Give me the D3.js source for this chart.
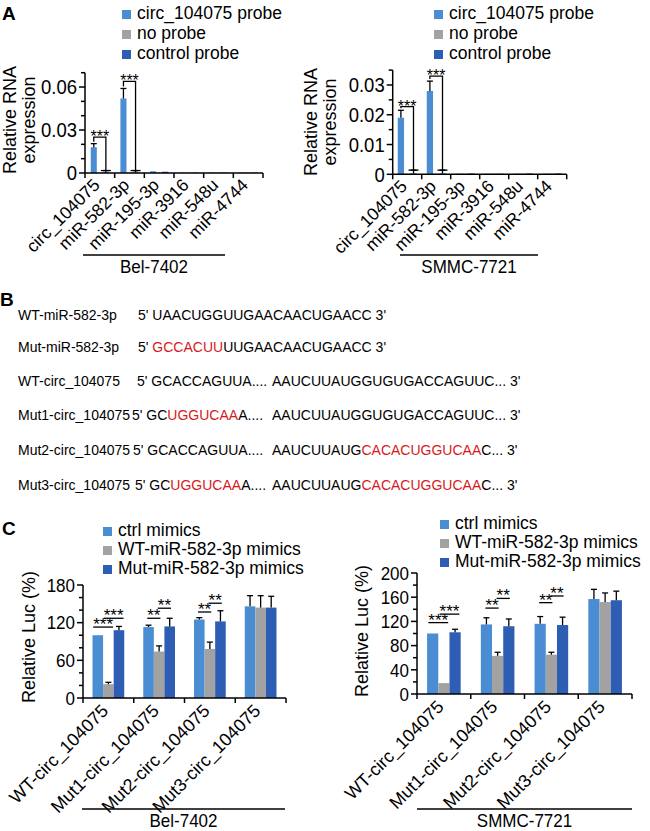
<!DOCTYPE html>
<html>
<head>
<meta charset="utf-8">
<script src="https://cdn.jsdelivr.net/npm/d3@7"></script>
<style>
  body { margin: 0; background: #fff; }
  text { font-family: "Liberation Sans", Arial, sans-serif; }
</style>
</head>
<body>
<svg id="fig" width="650" height="831"></svg>
<script>
// ---- panel A data ----
var probeTargets = ["circ_104075", "miR-582-3p", "miR-195-3p", "miR-3916", "miR-548u", "miR-4744"];
var probeSeries = ["circ_104075 probe", "no probe", "control probe"];

var belProbe = [0.018, 0.052, 0.0012, 0.0003, 0.0003, 0.0003];
var belProbeErr = [0.0025, 0.007, 0.0003, 0.0001, 0.0001, 0.0001];
var belNoProbe = [0.0003, 0.0003, 0.0003, 0.0002, 0.0002, 0.0002];
var belNoProbeErr = [0.0001, 0.0001, 0.0001, 0.0001, 0.0001, 0.0001];
var belControl = [0.0004, 0.0004, 0.0009, 0.0003, 0.0003, 0.0003];
var belControlErr = [0.0013, 0.0013, 0.0002, 0.0001, 0.0001, 0.0001];

var smmcProbe = [0.019, 0.028, 0.0002, 0.0002, 0.0002, 0.0002];
var smmcProbeErr = [0.0025, 0.0033, 0.0001, 0.0001, 0.0001, 0.0001];
var smmcNoProbe = [0.0002, 0.0002, 0.0002, 0.0002, 0.0002, 0.0002];
var smmcNoProbeErr = [0.0001, 0.0001, 0.0001, 0.0001, 0.0001, 0.0001];
var smmcControl = [0.0003, 0.0003, 0.0003, 0.0002, 0.0003, 0.0003];
var smmcControlErr = [0.0011, 0.0011, 0.0001, 0.0001, 0.0001, 0.0001];

// bracket tops (data units) for probe vs control probe
var belBrackets = [{group: 0, top: 0.025, label: "***"}, {group: 1, top: 0.064, label: "***"}];
var smmcBrackets = [{group: 0, top: 0.0227, label: "***"}, {group: 1, top: 0.033, label: "***"}];

// ---- panel B data ----
var seqNames = ["WT-miR-582-3p", "Mut-miR-582-3p", "WT-circ_104075", "Mut1-circ_104075", "Mut2-circ_104075", "Mut3-circ_104075"];
// [text, isMutated]
var seqHeads = [
  [["5' UAACUGGUUGAACAACUGAACC 3'", 0]],
  [["5' ", 0], ["GCCACUU", 1], ["UUGAACAACUGAACC 3'", 0]],
  [["5' GCACCAGUUA....", 0]],
  [["5' GC", 0], ["UGGUCAA", 1], ["A....", 0]],
  [["5' GCACCAGUUA....", 0]],
  [["5' GC", 0], ["UGGUCAA", 1], ["A....", 0]]
];
var seqTails = [
  [],
  [],
  [["AAUCUUAUGGUGUGACCAGUUC... 3'", 0]],
  [["AAUCUUAUGGUGUGACCAGUUC... 3'", 0]],
  [["AAUCUUAUG", 0], ["CACACUGGUCAA", 1], ["C... 3'", 0]],
  [["AAUCUUAUG", 0], ["CACACUGGUCAA", 1], ["C... 3'", 0]]
];

// ---- panel C data ----
var lucTargets = ["WT-circ_104075", "Mut1-circ_104075", "Mut2-circ_104075", "Mut3-circ_104075"];
var lucSeries = ["ctrl mimics", "WT-miR-582-3p mimics", "Mut-miR-582-3p mimics"];

var belCtrl = [100, 113, 125, 146];
var belCtrlErr = [1.5, 3, 3, 17];
var belWT = [22, 74, 78, 144];
var belWTErr = [3, 9, 11, 19];
var belMut = [108, 114, 122, 144];
var belMutErr = [6, 13, 17, 18];

var smmcCtrl = [100, 115, 116, 157];
var smmcCtrlErr = [1, 11, 12, 16];
var smmcWT = [18, 63, 65, 152];
var smmcWTErr = [2, 6, 4, 15];
var smmcMut = [102, 112, 114, 155];
var smmcMutErr = [5, 12, 13, 15];

// significance underlines: pair 0 = ctrl vs WT, pair 1 = WT vs Mut (y in data units)
var belSig = [
  {group: 0, pair: 0, y: 113, label: "***"}, {group: 0, pair: 1, y: 127, label: "***"},
  {group: 1, pair: 0, y: 127, label: "**"}, {group: 1, pair: 1, y: 143, label: "**"},
  {group: 2, pair: 0, y: 137, label: "**"}, {group: 2, pair: 1, y: 151, label: "**"}
];
var smmcSig = [
  {group: 0, pair: 0, y: 118, label: "***"}, {group: 0, pair: 1, y: 132, label: "***"},
  {group: 1, pair: 0, y: 142, label: "**"}, {group: 1, pair: 1, y: 158, label: "**"},
  {group: 2, pair: 0, y: 151, label: "**"}, {group: 2, pair: 1, y: 162, label: "**"}
];

var colors = ["#4b8dd2", "#a2a2a2", "#2e5db4"];

var svg = d3.select("#fig");

function legend(g, names, x, y, step, size) {
  var row = g.append("g").selectAll("g").data(names).enter().append("g")
    .attr("transform", function(d, i) { return "translate(" + x + "," + (y + i * step) + ")"; });
  row.append("rect").attr("x", 0).attr("y", -9).attr("width", 9).attr("height", 9)
    .attr("fill", function(d, i) { return colors[i]; });
  row.append("text").attr("x", 15).attr("y", 0).attr("font-size", size).text(function(d) { return d; });
}

function barChart(opt) {
  var g = svg.append("g");
  var x = d3.scaleBand().domain(opt.categories).range([opt.left, opt.right]);
  var xs = d3.scaleBand().domain(d3.range(opt.series.length))
    .range([0, x.bandwidth()]).paddingOuter(opt.outer);
  var y = d3.scaleLinear().domain([0, opt.max]).range([opt.bottom, opt.top]);
  var bw = xs.bandwidth();

  // bars + error bars
  opt.series.forEach(function(vals, s) {
    var pts = vals.map(function(v, i) {
      return {cx: x(opt.categories[i]) + xs(s) + bw / 2, v: v, e: opt.errors[s][i]};
    });
    g.append("g").selectAll("rect").data(pts).enter().append("rect")
      .attr("x", function(d) { return d.cx - bw / 2; })
      .attr("y", function(d) { return y(d.v); })
      .attr("width", bw)
      .attr("height", function(d) { return opt.bottom - y(d.v); })
      .attr("fill", colors[s]);
    var eg = g.append("g").attr("stroke", "#000").attr("stroke-width", 1.3);
    pts.forEach(function(d) {
      if (y(d.v) - y(d.v + d.e) < 1.5) return;
      eg.append("line").attr("x1", d.cx).attr("x2", d.cx).attr("y1", y(d.v)).attr("y2", y(d.v + d.e));
      eg.append("line").attr("x1", d.cx - 3).attr("x2", d.cx + 3).attr("y1", y(d.v + d.e)).attr("y2", y(d.v + d.e));
    });
  });

  // y axis with minor ticks
  var ax = g.append("g").attr("stroke", "#000").attr("stroke-width", 1.5);
  ax.append("line").attr("x1", opt.left).attr("x2", opt.left).attr("y1", opt.bottom).attr("y2", y(opt.max));
  d3.range(0, opt.max + 1e-9, opt.minor).forEach(function(t) {
    var major = Math.abs(t / opt.major - Math.round(t / opt.major)) < 1e-6;
    ax.append("line").attr("x1", opt.left - (major ? 6 : 4)).attr("x2", opt.left)
      .attr("y1", y(t)).attr("y2", y(t));
  });
  g.append("g").selectAll("text").data(d3.range(0, opt.max + 1e-9, opt.major)).enter().append("text")
    .attr("text-anchor", "end").attr("font-size", opt.tickSize)
    .attr("transform", function(d) { return "translate(" + (opt.left - 8) + "," + y(d) + ") scale(1,1.1)"; })
    .attr("dy", "0.36em")
    .text(function(d) { return d === 0 ? "0" : d3.format(opt.fmt)(d); });

  // x axis with ticks at group boundaries
  ax.append("line").attr("x1", opt.left).attr("x2", opt.right).attr("y1", opt.bottom).attr("y2", opt.bottom);
  opt.categories.concat([null]).forEach(function(c) {
    var tx = c === null ? opt.right : x(c);
    ax.append("line").attr("x1", tx).attr("x2", tx).attr("y1", opt.bottom).attr("y2", opt.bottom + 5);
  });
  g.append("g").selectAll("text").data(opt.categories).enter().append("text")
    .attr("text-anchor", "end").attr("font-size", opt.catSize)
    .attr("transform", function(d) {
      return "translate(" + (x(d) + x.bandwidth() / 2 + opt.catDx) + "," + (opt.bottom + opt.catDy) + ") rotate(-45)";
    })
    .text(function(d) { return d; });

  // y title
  var yt = g.append("text").attr("text-anchor", "middle").attr("font-size", opt.titleSize)
    .attr("transform", "translate(" + opt.titleX + "," + opt.titleY + ") rotate(-90)");
  opt.title.forEach(function(line, i) {
    yt.append("tspan").attr("x", 0).attr("dy", i === 0 ? 0 : opt.titleStep).text(line);
  });

  // cell line underline + name
  g.append("line").attr("x1", opt.cellX1).attr("x2", opt.cellX2).attr("y1", opt.cellY).attr("y2", opt.cellY)
    .attr("stroke", "#000").attr("stroke-width", 1.3);
  g.append("text").attr("text-anchor", "middle").attr("font-size", opt.cellSize)
    .attr("transform", "translate(" + ((opt.cellX1 + opt.cellX2) / 2) + "," + (opt.cellY + 18) + ") scale(1,1.1)")
    .text(opt.cell);

  return {g: g, x: x, xs: xs, y: y, bw: bw};
}

function probeBrackets(c, brackets, series, errors, cats) {
  var bg = c.g.append("g").attr("stroke", "#000").attr("stroke-width", 1.3).attr("fill", "none");
  brackets.forEach(function(b) {
    var cat = cats[b.group];
    var xl = c.x(cat) + c.xs(0) + c.bw / 2;
    var xr = c.x(cat) + c.xs(2) + c.bw / 2;
    var yt = c.y(b.top);
    var yl = c.y(series[0][b.group] + errors[0][b.group]) - 2;
    var yr = c.y(series[2][b.group] + errors[2][b.group]);
    bg.append("path").attr("d", "M" + xl + "," + yl + "V" + yt + "H" + xr + "V" + yr);
    bg.append("line").attr("x1", xr - 5).attr("x2", xr + 5).attr("y1", yr).attr("y2", yr);
    c.g.append("text").attr("x", (xl + xr) / 2).attr("y", yt + 5).attr("text-anchor", "middle")
      .attr("font-size", 16).text(b.label);
  });
}

function lucSig(c, sig, cats) {
  sig.forEach(function(s) {
    var cat = cats[s.group];
    var xa = c.x(cat) + c.xs(s.pair) + c.bw / 2;
    var xb = c.x(cat) + c.xs(s.pair + 1) + c.bw / 2;
    var mid = (xa + xb) / 2;
    var t = c.g.append("text").attr("x", mid).attr("y", c.y(s.y) + 3).attr("text-anchor", "middle")
      .attr("font-size", 17).text(s.label);
    var w = t.node().getComputedTextLength();
    c.g.append("line").attr("x1", mid - w / 2).attr("x2", mid + w / 2)
      .attr("y1", c.y(s.y)).attr("y2", c.y(s.y)).attr("stroke", "#000").attr("stroke-width", 1.3);
  });
}

// ---- panel labels ----
[["A", 2, 20], ["B", 0, 306], ["C", 2, 535]].forEach(function(p) {
  svg.append("text").attr("x", p[1]).attr("y", p[2]).attr("font-size", 19).attr("font-weight", "bold").text(p[0]);
});

// ---- panel A ----
var aCommon = {categories: probeTargets, outer: 0.95, tickSize: 18.5, catSize: 17.5, catDx: 1, catDy: 13,
  titleSize: 18, titleStep: 19, title: ["Relative RNA", "expression"], cellSize: 17};

var a1 = barChart(Object.assign({}, aCommon, {
  left: 85, right: 263, top: 72.7, bottom: 173, max: 0.07, major: 0.03, minor: 0.01, fmt: ".2f",
  series: [belProbe, belNoProbe, belControl], errors: [belProbeErr, belNoProbeErr, belControlErr],
  titleX: 16, titleY: 120, cellX1: 83, cellX2: 225, cellY: 255, cell: "Bel-7402"
}));
probeBrackets(a1, belBrackets, [belProbe, belNoProbe, belControl], [belProbeErr, belNoProbeErr, belControlErr], probeTargets);
legend(svg, probeSeries, 122, 19, 20, 17.5);

var a2 = barChart(Object.assign({}, aCommon, {
  left: 392.7, right: 566.7, top: 70.1, bottom: 174.3, max: 0.035, major: 0.01, minor: 0.005, fmt: ".2f",
  outer: 0.8,
  series: [smmcProbe, smmcNoProbe, smmcControl], errors: [smmcProbeErr, smmcNoProbeErr, smmcControlErr],
  titleX: 317, titleY: 122, cellX1: 400, cellX2: 538, cellY: 255, cell: "SMMC-7721"
}));
probeBrackets(a2, smmcBrackets, [smmcProbe, smmcNoProbe, smmcControl], [smmcProbeErr, smmcNoProbeErr, smmcControlErr], probeTargets);
legend(svg, probeSeries, 434, 19, 20, 17.5);

// ---- panel B ----
var seqBase = [320, 352, 386, 420, 455, 490];
var seqX = [138, 138, 137, 132, 133, 135];
var bg = svg.append("g").attr("font-size", 14);
seqNames.forEach(function(name, i) {
  bg.append("text").attr("x", 18).attr("y", seqBase[i]).attr("font-size", 14).text(name);
  [[seqHeads[i], seqX[i]], [seqTails[i], 272]].forEach(function(part) {
    if (!part[0].length) return;
    var t = bg.append("text").attr("x", part[1]).attr("y", seqBase[i]).attr("font-size", 14);
    part[0].forEach(function(seg) {
      t.append("tspan").attr("fill", seg[1] ? "#d7191c" : "#000").text(seg[0]);
    });
  });
});

// ---- panel C ----
var cCommon = {categories: lucTargets, outer: 0.9, tickSize: 17, catSize: 18, catDx: 1, catDy: 14,
  titleSize: 18, titleStep: 0, title: ["Relative Luc (%)"], cellSize: 17, fmt: "d"};

var c1 = barChart(Object.assign({}, cCommon, {
  left: 83, right: 286, top: 585, bottom: 698, max: 180, major: 60, minor: 20,
  series: [belCtrl, belWT, belMut], errors: [belCtrlErr, belWTErr, belMutErr],
  titleX: 35, titleY: 637, cellX1: 82, cellX2: 285, cellY: 809, cell: "Bel-7402"
}));
lucSig(c1, belSig, lucTargets);
legend(svg, lucSeries, 103, 536, 19, 17.5);

var c2 = barChart(Object.assign({}, cCommon, {
  left: 417, right: 632, top: 573, bottom: 694, max: 200, major: 40, minor: 20,
  series: [smmcCtrl, smmcWT, smmcMut], errors: [smmcCtrlErr, smmcWTErr, smmcMutErr],
  titleX: 368, titleY: 631, cellX1: 417, cellX2: 632, cellY: 809, cell: "SMMC-7721"
}));
lucSig(c2, smmcSig, lucTargets);
legend(svg, lucSeries, 440, 529, 19, 17.5);
</script>
</body>
</html>
